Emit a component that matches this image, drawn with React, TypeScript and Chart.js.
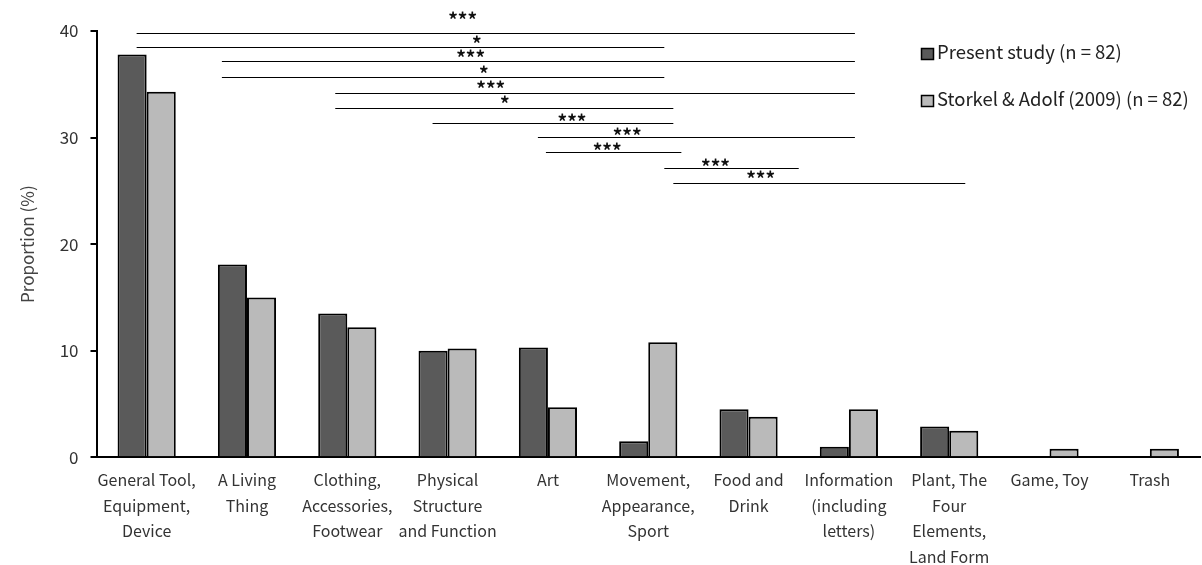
import React, { useEffect, useRef } from "react";
import { Chart, registerables } from "chart.js";

Chart.register(...registerables);

const categories: string[][] = [
  ["General Tool,", "Equipment,", "Device"],
  ["A Living", "Thing"],
  ["Clothing,", "Accessories,", "Footwear"],
  ["Physical", "Structure", "and Function"],
  ["Art"],
  ["Movement,", "Appearance,", "Sport"],
  ["Food and", "Drink"],
  ["Information", "(including", "letters)"],
  ["Plant, The", "Four", "Elements,", "Land Form"],
  ["Game, Toy"],
  ["Trash"],
];

const presentStudy = [37.8, 18.1, 13.5, 10.0, 10.3, 1.5, 4.5, 1.0, 2.9, 0, 0];
const storkelAdolf = [34.3, 15.0, 12.2, 10.2, 4.7, 10.8, 3.8, 4.5, 2.5, 0.8, 0.8];

const yTicks = [0, 10, 20, 30, 40];

const seriesNames = ["Present study (n = 82)", "Storkel & Adolf (2009) (n = 82)"];

// Significance brackets: start / end in category units, height in %, label and label position
const sigStart = [-0.1, -0.1, 0.75, 0.75, 1.88, 1.88, 2.85, 3.9, 3.98, 5.16, 5.25];
const sigEnd = [7.06, 5.16, 7.06, 5.16, 7.06, 5.25, 5.25, 7.06, 5.33, 6.5, 8.16];
const sigHeight = [39.81, 38.5, 37.18, 35.68, 34.18, 32.77, 31.36, 30.05, 28.6, 27.14, 25.78];
const sigLabels = ["***", "*", "***", "*", "***", "*", "***", "***", "***", "***", "***"];
const sigLabelX = [3.15, 3.29, 3.23, 3.36, 3.43, 3.57, 4.24, 4.79, 4.59, 5.67, 6.12];
const sigLabelY = [41.53, 39.28, 37.96, 36.46, 35.05, 33.64, 31.95, 30.64, 29.23, 27.73, 26.6];

const DARK = "#5a5a5a";
const LIGHT = "#bababa";
const FONT = '"Noto Sans CJK JP", "Noto Sans", sans-serif';

const overlayPlugin = {
  id: "overlay",
  afterDatasetsDraw(chart: any) {
    const { ctx } = chart;
    const x = chart.scales.x;
    const y = chart.scales.y;
    const c0 = x.getPixelForValue(0);
    const cw = x.getPixelForValue(1) - c0;
    const px = (u: number) => c0 + u * cw;
    ctx.save();
    ctx.strokeStyle = "#000";
    ctx.lineWidth = 1.2;
    for (let i = 0; i < sigStart.length; i++) {
      const yy = Math.round(y.getPixelForValue(sigHeight[i])) + 0.5;
      ctx.beginPath();
      ctx.moveTo(px(sigStart[i]), yy);
      ctx.lineTo(px(sigEnd[i]), yy);
      ctx.stroke();
    }
    ctx.fillStyle = "#111";
    ctx.font = `bold 19px ${FONT}`;
    ctx.textAlign = "center";
    ctx.textBaseline = "alphabetic";
    for (let i = 0; i < sigLabels.length; i++) {
      const m = ctx.measureText(sigLabels[i]);
      const cy = y.getPixelForValue(sigLabelY[i]);
      const base = cy + (m.actualBoundingBoxAscent - m.actualBoundingBoxDescent) / 2;
      ctx.fillText(sigLabels[i], px(sigLabelX[i]), base);
    }
    // legend
    const colors = [DARK, LIGHT];
    const rows = [54, 101];
    ctx.font = `18.5px ${FONT}`;
    ctx.textAlign = "left";
    ctx.textBaseline = "middle";
    for (let i = 0; i < 2; i++) {
      ctx.fillStyle = colors[i];
      ctx.fillRect(921.5, rows[i] - 5.5, 12, 11);
      ctx.strokeStyle = "#000";
      ctx.lineWidth = 1.5;
      ctx.strokeRect(921.5, rows[i] - 5.5, 12, 11);
      ctx.fillStyle = "#222";
      ctx.fillText(seriesNames[i], 937, rows[i] - 2);
    }
    ctx.restore();
  },
};

export default function App() {
  const ref = useRef<HTMLCanvasElement>(null);
  useEffect(() => {
    if (!ref.current) return;
    const chart = new Chart(ref.current, {
      type: "bar",
      data: {
        labels: categories,
        datasets: [
          {
            label: seriesNames[0],
            data: presentStudy,
            backgroundColor: DARK,
            borderColor: "#000",
            borderWidth: 2,
            borderSkipped: "bottom",
          },
          {
            label: seriesNames[1],
            data: storkelAdolf,
            backgroundColor: LIGHT,
            borderColor: "#000",
            borderWidth: 2,
            borderSkipped: "bottom",
          },
        ],
      },
      options: {
        responsive: false,
        animation: false,
        devicePixelRatio: 1,
        layout: { padding: { left: 0, top: 31, right: 2, bottom: 0 } },
        datasets: { bar: { categoryPercentage: 0.58, barPercentage: 1 } },
        plugins: { legend: { display: false }, tooltip: { enabled: false } },
        scales: {
          x: {
            grid: { display: false },
            border: { display: true, color: "#000", width: 2 },
            ticks: {
              color: "#333",
              font: { family: FONT, size: 16, lineHeight: 1.6 },
              padding: 2,
              maxRotation: 0,
              autoSkip: false,
            },
            afterFit: (s: any) => {
              s.height = 107.7;
            },
          },
          y: {
            min: 0,
            max: 40,
            afterBuildTicks: (s: any) => {
              s.ticks = yTicks.map((v) => ({ value: v }));
            },
            grid: { display: true, drawOnChartArea: false, drawTicks: true, tickLength: 6, color: "#000", lineWidth: 2 },
            border: { display: true, color: "#000", width: 2 },
            ticks: { color: "#333", font: { family: FONT, size: 17 }, padding: 12 },
            title: {
              display: true,
              text: "Proportion (%)",
              color: "#444",
              font: { family: FONT, size: 17 },
              padding: { top: 17, bottom: 0 },
            },
            afterFit: (s: any) => {
              s.width = 96.5;
            },
          },
        },
      },
      plugins: [overlayPlugin],
    } as any);
    return () => chart.destroy();
  }, []);
  return (
    <div style={{ position: "fixed", left: 0, top: 0, width: 1202, height: 565, background: "#fff" }}>
      <canvas ref={ref} width={1202} height={565} style={{ display: "block" }} />
    </div>
  );
}
